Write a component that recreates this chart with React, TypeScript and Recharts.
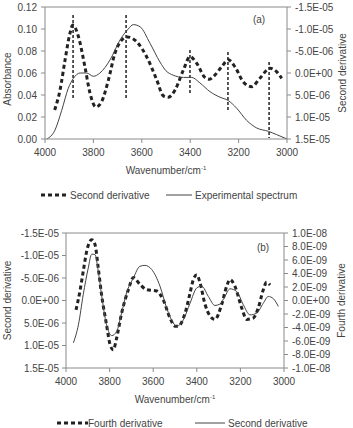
import React from 'react';
import {
  ComposedChart,
  Line,
  XAxis,
  YAxis,
  ReferenceLine,
  Legend,
  Label,
} from 'recharts';

// ---- Panel (a): experimental absorbance spectrum (left axis) ----
const expWavenumber = [3993, 3959, 3931, 3904, 3883, 3855, 3828, 3800, 3773, 3731, 3690, 3656, 3635, 3607, 3566, 3525, 3500, 3470, 3428, 3394, 3360, 3318, 3277, 3243, 3208, 3167, 3125, 3077, 3043, 3000];
const expAbsorbance = [0.0, 0.008, 0.026, 0.046, 0.055, 0.06, 0.06, 0.057, 0.06, 0.072, 0.09, 0.1, 0.104, 0.102, 0.087, 0.07, 0.062, 0.058, 0.056, 0.056, 0.051, 0.043, 0.038, 0.035, 0.028, 0.017, 0.01, 0.007, 0.004, 0.0];

// ---- Panel (a): second derivative (right axis, units of 1e-6) ----
const d2aWavenumber = [3960, 3938, 3917, 3897, 3885, 3862, 3835, 3814, 3790, 3766, 3738, 3711, 3683, 3660, 3621, 3580, 3538, 3511, 3490, 3463, 3428, 3401, 3373, 3339, 3320, 3304, 3270, 3243, 3215, 3181, 3146, 3112, 3070, 3043, 3022];
const d2aValue = [8.4, 3.9, -3.0, -9.0, -10.9, -8.3, -1.4, 4.6, 7.7, 6.5, 1.6, -4.5, -7.5, -8.2, -7.1, -3.7, 1.6, 5.2, 5.5, 3.9, -0.7, -3.7, -2.2, 1.0, 1.4, 0.8, -1.4, -3.0, -1.4, 2.0, 3.1, 1.2, -1.1, -0.3, 1.2];

// ---- Panel (a): peak markers (wavenumber, top and bottom in absorbance) ----
const peakWavenumber = [3884, 3665, 3401, 3244, 3074];
const peakTop = [0.1127, 0.1127, 0.081, 0.079, 0.07];
const peakBottom = [0.0355, 0.0355, 0.04, 0.0245, 0.001];

// ---- Panel (b): second derivative (left axis, units of 1e-6) ----
const d2bWavenumber = [3966, 3943, 3921, 3898, 3882, 3867, 3852, 3837, 3814, 3790, 3768, 3745, 3722, 3691, 3661, 3638, 3607, 3569, 3538, 3508, 3492, 3462, 3431, 3400, 3378, 3347, 3317, 3294, 3271, 3248, 3217, 3187, 3156, 3125, 3095, 3072, 3049, 3026];
const d2bValue = [9.4, 5.4, -1.3, -7.2, -10.3, -10.2, -6.5, -1.3, 5.4, 7.8, 6.9, 2.8, -1.7, -5.0, -7.6, -7.8, -6.9, -3.2, 1.7, 5.0, 5.7, 4.3, 0.6, -2.8, -3.2, -0.9, 1.1, 0.8, -0.9, -2.6, -2.0, 0.9, 3.2, 2.8, 0.6, -0.9, -0.4, 1.3];

// ---- Panel (b): fourth derivative (right axis, units of 1e-9) ----
const d4bWavenumber = [3954, 3936, 3921, 3905, 3882, 3867, 3852, 3837, 3814, 3798, 3783, 3768, 3745, 3714, 3691, 3661, 3630, 3584, 3554, 3523, 3500, 3485, 3454, 3431, 3416, 3400, 3385, 3362, 3339, 3317, 3286, 3263, 3248, 3225, 3194, 3171, 3141, 3118, 3095, 3080, 3064];
const d4bValue = [-1.4, 1.4, 4.3, 7.3, 9.0, 8.3, 4.8, 0.9, -3.6, -6.5, -7.3, -5.6, -1.9, 1.6, 3.4, 2.4, 1.6, 1.4, 0.1, -2.6, -3.8, -3.8, -1.9, 1.1, 3.1, 3.8, 2.6, -0.6, -2.3, -2.8, -0.6, 2.1, 3.1, 2.1, -1.1, -2.8, -2.6, -1.1, 1.6, 2.7, 2.3];

// ---- Axis ticks ----
const wavenumberTicks = [4000, 3800, 3600, 3400, 3200, 3000];
const absorbanceTicks = [0, 0.02, 0.04, 0.06, 0.08, 0.1, 0.12];
const secondDerivTicks = [-1.5e-5, -1.0e-5, -5.0e-6, 0, 5.0e-6, 1.0e-5, 1.5e-5];
const fourthDerivTicks = [-1e-8, -8e-9, -6e-9, -4e-9, -2e-9, 0, 2e-9, 4e-9, 6e-9, 8e-9, 1e-8];

const toRows = (xs: number[], ys: number[], scale = 1) =>
  xs.map((w, i) => ({ w, v: ys[i] * scale }));

const expData = toRows(expWavenumber, expAbsorbance);
const d2aData = toRows(d2aWavenumber, d2aValue, 1e-6);
const d2bData = toRows(d2bWavenumber, d2bValue, 1e-6);
const d4bData = toRows(d4bWavenumber, d4bValue, 1e-9);

const FONT = '"Liberation Sans", Arial, sans-serif';
const TEXT = '#444';
const AXIS = '#8a8a8a';
const DARK = '#222';
const SOLID = '#444';

const sci = (v: number) => {
  if (Math.abs(v) < 1e-20) return '0.0E+00';
  const [m, e] = v.toExponential(1).split('e');
  const ex = parseInt(e, 10);
  return `${m}E${ex < 0 ? '-' : '+'}${String(Math.abs(ex)).padStart(2, '0')}`;
};

const tickStyle = { fontSize: 10, fill: TEXT, fontFamily: FONT };

const WavenumberLabel = (props: any) => {
  const vb = props.viewBox || {};
  const cx = vb.x + vb.width / 2;
  const y = vb.y + vb.height - 5;
  return (
    <text x={cx} y={y} textAnchor="middle" fontSize={10} fill={TEXT} fontFamily={FONT}>
      Wavenumber/cm
      <tspan fontSize={6} dy={-4}>-1</tspan>
    </text>
  );
};

const SideLabel = ({ viewBox, text, dx, dy = 0 }: any) => {
  const vb = viewBox || {};
  const x = vb.x + dx;
  const y = vb.y + vb.height / 2 + dy;
  return (
    <text
      x={x}
      y={y}
      transform={`rotate(-90 ${x} ${y})`}
      textAnchor="middle"
      dominantBaseline="central"
      fontSize={10}
      fill={TEXT}
      fontFamily={FONT}
    >
      {text}
    </text>
  );
};

const PanelTag = ({ viewBox, text, dx, dy }: any) => {
  const vb = viewBox || {};
  return (
    <text x={vb.x + vb.width - dx} y={vb.y + dy} textAnchor="middle" fontSize={10} fill={TEXT} fontFamily={FONT}>
      {text}
    </text>
  );
};

type LegendSpec = { name: string; iconX: [number, number]; textX: number; dashed: boolean };

const makeLegend = (specs: LegendSpec[]) => (props: any) => {
  const payload = props.payload || [];
  return (
    <svg width={353} height={14} style={{ display: 'block' }}>
      {specs.map((s, i) => {
        const entry = payload.find((p: any) => p.value === s.name);
        if (!entry) return null;
        return (
          <g key={i}>
            <line
              x1={s.iconX[0]}
              x2={s.iconX[1]}
              y1={7}
              y2={7}
              stroke={s.dashed ? DARK : SOLID}
              strokeWidth={s.dashed ? 3 : 1}
              strokeDasharray={s.dashed ? '4 3' : undefined}
            />
            <text x={s.textX} y={7} dominantBaseline="central" fontSize={10} fill={TEXT} fontFamily={FONT}>
              {entry.value}
            </text>
          </g>
        );
      })}
    </svg>
  );
};

const legendA = makeLegend([
  { name: 'Second derivative', iconX: [41, 67], textX: 70, dashed: true },
  { name: 'Experimental spectrum', iconX: [166, 192], textX: 195, dashed: false },
]);
const legendB = makeLegend([
  { name: 'Fourth derivative', iconX: [57, 88], textX: 88, dashed: true },
  { name: 'Second derivative', iconX: [195, 225], textX: 228, dashed: false },
]);

export default function App() {
  return (
    <div style={{ position: 'absolute', left: 0, top: 0, width: 353, height: 428, background: '#fff' }}>
      {/* Panel (a) */}
      <div style={{ position: 'absolute', left: 0, top: 0 }}>
        <ComposedChart width={353} height={205} margin={{ top: 7, right: 0, bottom: 26, left: 0 }}>
          <XAxis
            dataKey="w"
            type="number"
            domain={[3000, 4000]}
            reversed
            ticks={wavenumberTicks}
            interval={0}
            allowDataOverflow
            height={40}
            tick={tickStyle}
            tickSize={4}
            tickMargin={6}
            stroke={AXIS}
          >
            <Label content={<WavenumberLabel />} />
          </XAxis>
          <YAxis
            yAxisId="abs"
            orientation="left"
            type="number"
            domain={[0, 0.12]}
            ticks={absorbanceTicks}
            interval={0}
            tickFormatter={(v: number) => v.toFixed(2)}
            width={45}
            tick={tickStyle}
            tickSize={4}
            tickMargin={4}
            stroke={AXIS}
          >
            <Label content={<SideLabel text="Absorbance" dx={7} dy={6} />} />
          </YAxis>
          <YAxis
            yAxisId="d2"
            orientation="right"
            type="number"
            reversed
            domain={[-1.5e-5, 1.5e-5]}
            ticks={secondDerivTicks}
            interval={0}
            tickFormatter={sci}
            width={66}
            tick={tickStyle}
            tickSize={4}
            tickMargin={4}
            stroke={AXIS}
          >
            <Label content={<SideLabel text="Second derivative" dx={55} />} />
          </YAxis>
          <ReferenceLine yAxisId="abs" y={0.12} stroke={AXIS}>
            <Label content={<PanelTag text="(a)" dx={28} dy={16} />} />
          </ReferenceLine>
          {peakWavenumber.map((w, i) => (
            <ReferenceLine
              key={w}
              yAxisId="abs"
              segment={[
                { x: w, y: peakTop[i] },
                { x: w, y: peakBottom[i] },
              ]}
              stroke={DARK}
              strokeWidth={1.5}
              strokeDasharray="3 2"
            />
          ))}
          <Line
            yAxisId="d2"
            data={d2aData}
            dataKey="v"
            name="Second derivative"
            type="monotone"
            stroke={DARK}
            strokeWidth={3}
            strokeDasharray="4 3"
            dot={false}
            isAnimationActive={false}
          />
          <Line
            yAxisId="abs"
            data={expData}
            dataKey="v"
            name="Experimental spectrum"
            type="monotone"
            stroke={SOLID}
            strokeWidth={1}
            dot={false}
            isAnimationActive={false}
          />
          <Legend
            verticalAlign="middle"
            align="center"
            layout="horizontal"
            width={353}
            content={legendA}
            wrapperStyle={{ top: 188, left: 0, width: 353 }}
          />
        </ComposedChart>
      </div>

      {/* Panel (b) */}
      <div style={{ position: 'absolute', left: 0, top: 205 }}>
        <ComposedChart width={353} height={223} margin={{ top: 28, right: 0, bottom: 20, left: 0 }}>
          <XAxis
            dataKey="w"
            type="number"
            domain={[3000, 4000]}
            reversed
            ticks={wavenumberTicks}
            interval={0}
            allowDataOverflow
            height={40}
            tick={tickStyle}
            tickSize={4}
            tickMargin={6}
            stroke={AXIS}
          >
            <Label content={<WavenumberLabel />} />
          </XAxis>
          <YAxis
            yAxisId="d2"
            orientation="left"
            type="number"
            reversed
            domain={[-1.5e-5, 1.5e-5]}
            ticks={secondDerivTicks}
            interval={0}
            tickFormatter={sci}
            width={66}
            tick={tickStyle}
            tickSize={4}
            tickMargin={3}
            stroke={AXIS}
          >
            <Label content={<SideLabel text="Second derivative" dx={7} />} />
          </YAxis>
          <YAxis
            yAxisId="d4"
            orientation="right"
            type="number"
            domain={[-1e-8, 1e-8]}
            ticks={fourthDerivTicks}
            interval={0}
            tickFormatter={sci}
            width={69}
            tick={tickStyle}
            tickSize={4}
            tickMargin={4}
            stroke={AXIS}
          >
            <Label content={<SideLabel text="Fourth derivative" dx={57} />} />
          </YAxis>
          <ReferenceLine yAxisId="d2" y={-1.5e-5} stroke={AXIS}>
            <Label content={<PanelTag text="(b)" dx={21} dy={18} />} />
          </ReferenceLine>
          <Line
            yAxisId="d4"
            data={d4bData}
            dataKey="v"
            name="Fourth derivative"
            type="monotone"
            stroke={DARK}
            strokeWidth={3}
            strokeDasharray="4 3"
            dot={false}
            isAnimationActive={false}
          />
          <Line
            yAxisId="d2"
            data={d2bData}
            dataKey="v"
            name="Second derivative"
            type="monotone"
            stroke={SOLID}
            strokeWidth={1}
            dot={false}
            isAnimationActive={false}
          />
          <Legend
            verticalAlign="middle"
            align="center"
            layout="horizontal"
            width={353}
            content={legendB}
            wrapperStyle={{ top: 211, left: 0, width: 353 }}
          />
        </ComposedChart>
      </div>
    </div>
  );
}
